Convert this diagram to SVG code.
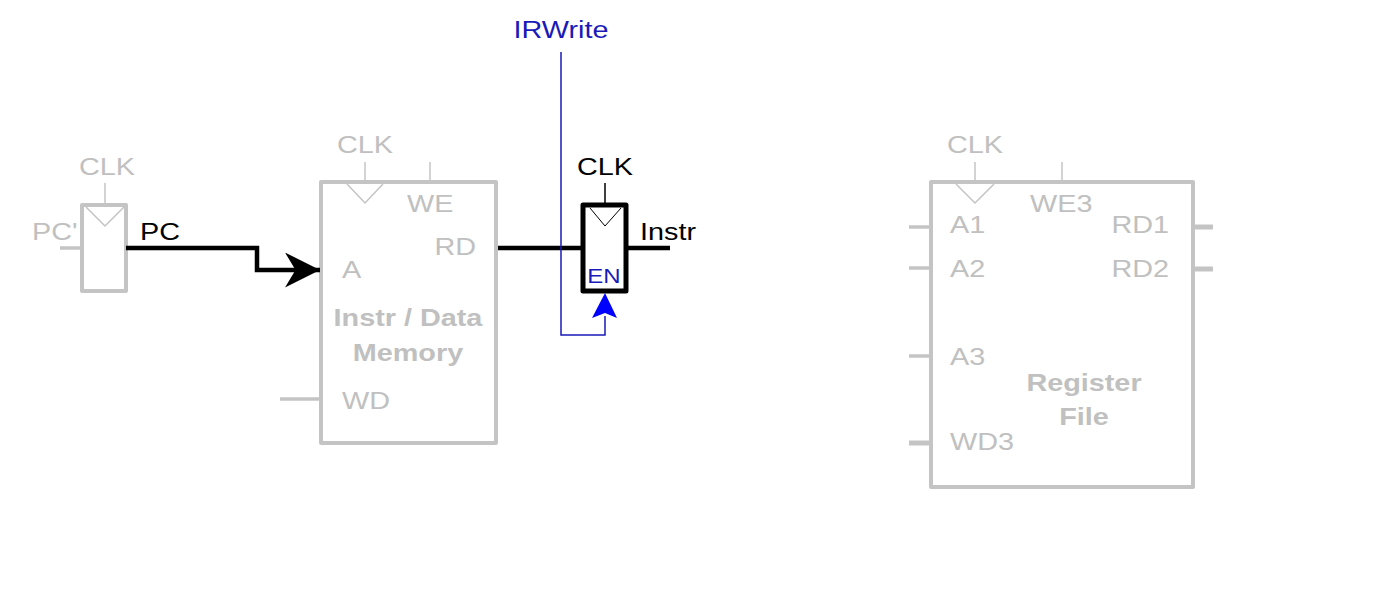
<svg xmlns="http://www.w3.org/2000/svg" width="1392" height="595" viewBox="0 0 1392 595">
<style>
text{font-family:"Liberation Sans",Arial,sans-serif;font-size:24px;transform-box:fill-box;transform:scaleX(1.2);transform-origin:0% 50%}
text.m{text-anchor:middle;transform-origin:50% 50%}
text.e{text-anchor:end;transform-origin:100% 50%}
.g{fill:#c0c0c0}
.gb{fill:#c0c0c0;font-weight:bold}
.k{fill:#000}
.b{fill:#1a1ab8}
.box{fill:#fff;stroke:#c4c4c4;stroke-width:4;stroke-linejoin:round}
.thin{stroke:#c4c4c4;stroke-width:1.5;fill:none}
.gw{stroke:#c4c4c4;stroke-width:3.5;fill:none}
.gw5{stroke:#c4c4c4;stroke-width:5;fill:none}
</style>
<defs>
<marker id="arrK" viewBox="0 0 10 10" refX="10" refY="5" markerWidth="35" markerHeight="35" markerUnits="userSpaceOnUse" orient="auto"><path d="M0,0L10,5L0,10L3,5z" fill="#000"/></marker>
</defs>
<rect width="1392" height="595" fill="#fff"/>

<g id="pc-reg">
<line class="gw" x1="60" y1="248" x2="82" y2="248"/>
<line class="thin" x1="105" y1="183" x2="105" y2="205"/>
<rect class="box" x="82" y="205" width="44" height="86"/>
<polyline class="thin" points="86,207 105,226 124,207"/>
<text class="g m" x="107" y="175">CLK</text>
<text class="g" x="32" y="240">PC'</text>
</g>

<g id="memory">
<line class="thin" x1="365" y1="162" x2="365" y2="182"/>
<line class="thin" x1="430" y1="162" x2="430" y2="182"/>
<line class="gw" x1="280" y1="399" x2="321" y2="399"/>
<rect class="box" x="321" y="182" width="175" height="261"/>
<polyline class="thin" points="347,184 365,203 383,184"/>
<text class="g m" x="365" y="153">CLK</text>
<text class="g" x="407" y="212">WE</text>
<text class="g e" x="476" y="255">RD</text>
<text class="g" x="342" y="278">A</text>
<text class="gb m" x="408" y="326">Instr / Data</text>
<text class="gb m" x="408" y="361">Memory</text>
<text class="g" x="342" y="409">WD</text>
</g>

<g id="ir-reg">
<line x1="605" y1="183" x2="605" y2="205" stroke="#000" stroke-width="1.5"/>
<rect x="583" y="205" width="43" height="86" fill="#fff" stroke="#000" stroke-width="5" stroke-linejoin="round"/>
<polyline points="590,208 605,226 621,208" fill="none" stroke="#000" stroke-width="1"/>
<text class="k m" x="605" y="175">CLK</text>
<text class="b m" x="604" y="283" style="font-size:20px">EN</text>
<text class="k" x="640" y="240">Instr</text>
</g>

<g id="regfile">
<line class="thin" x1="975" y1="162" x2="975" y2="182"/>
<line class="thin" x1="1062" y1="162" x2="1062" y2="182"/>
<line class="gw" x1="909" y1="227" x2="931" y2="227"/>
<line class="gw" x1="909" y1="268" x2="931" y2="268"/>
<line class="gw" x1="909" y1="356" x2="931" y2="356"/>
<line class="gw5" x1="909" y1="443" x2="931" y2="443"/>
<line class="gw5" x1="1193" y1="227" x2="1213" y2="227"/>
<line class="gw5" x1="1193" y1="269" x2="1213" y2="269"/>
<rect class="box" x="931" y="182" width="262" height="305"/>
<polyline class="thin" points="956,184 975,203 994,184"/>
<text class="g m" x="975" y="153">CLK</text>
<text class="g" x="1030" y="212">WE3</text>
<text class="g" x="950" y="233">A1</text>
<text class="g" x="950" y="277">A2</text>
<text class="g" x="950" y="365">A3</text>
<text class="g" x="950" y="450">WD3</text>
<text class="g e" x="1169" y="233">RD1</text>
<text class="g e" x="1169" y="277">RD2</text>
<text class="gb m" x="1084" y="391">Register</text>
<text class="gb m" x="1084" y="425">File</text>
</g>

<g id="irwrite-label">
<text class="b m" x="561" y="38">IRWrite</text>
</g>

<g id="connectors">
<polyline points="126,248 257,248 257,270 320,270" fill="none" stroke="#000" stroke-width="4.5" marker-end="url(#arrK)"/>
<text class="k" x="140" y="240">PC</text>
<line x1="498" y1="248" x2="583" y2="248" stroke="#000" stroke-width="4.5"/>
<line x1="626" y1="248" x2="670" y2="248" stroke="#000" stroke-width="4.5"/>
<polyline points="561,52 561,335 605,335 605,316" fill="none" stroke="#1a1ab8" stroke-width="1.5"/>
<polygon points="605,293 617,318 605,313 592,318" fill="#0000ff"/>
</g>
</svg>
